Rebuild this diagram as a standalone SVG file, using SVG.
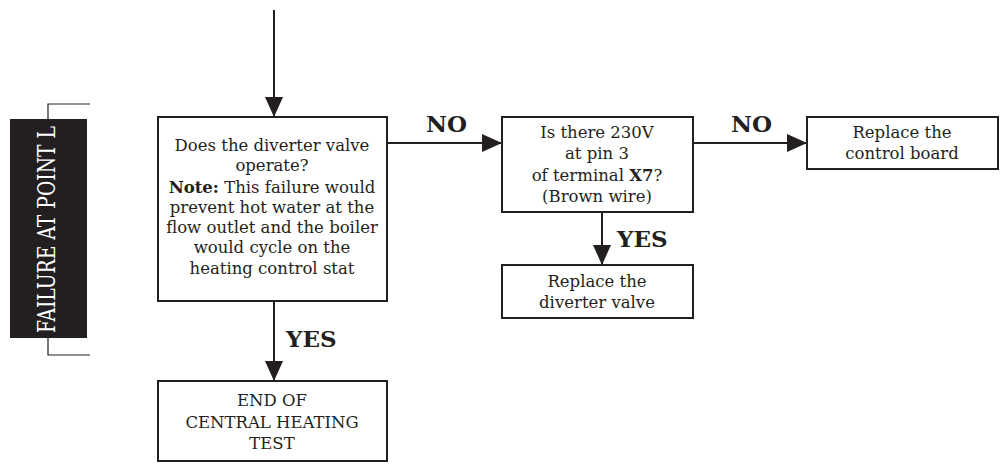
<svg xmlns="http://www.w3.org/2000/svg" width="1003" height="469" viewBox="0 0 1003 469">
<defs>
<style>
.box{fill:#fff;stroke:#231f20;stroke-width:2}
.t{font-family:"DejaVu Serif","Liberation Serif",serif;font-size:16.5px;fill:#231f20;text-anchor:middle}
.lbl{font-family:"DejaVu Serif","Liberation Serif",serif;font-size:23px;font-weight:bold;fill:#231f20}
.ln{stroke:#231f20;stroke-width:2;fill:none}
.br{stroke:#231f20;stroke-width:1.2;fill:none}
</style>
<marker id="ah" markerWidth="20" markerHeight="18" viewBox="0 0 20 18" refX="20" refY="9" markerUnits="userSpaceOnUse" orient="auto">
<path d="M0,0 L20,9 L0,18 Z" fill="#231f20"/>
</marker>
</defs>
<rect width="1003" height="469" fill="#fff"/>
<g id="side-label">
<path class="br" d="M90,104 H48 V120 M48,338 V355 H90"/>
<rect x="10" y="119" width="77" height="219" fill="#231f20"/>
<text x="0" y="0" transform="translate(55,229.5) rotate(-90)" font-family="DejaVu Serif, Liberation Serif, serif" font-size="24" fill="#fff" text-anchor="middle" textLength="207" lengthAdjust="spacingAndGlyphs">FAILURE AT POINT L</text>
</g>
<g id="connectors">
<line class="ln" x1="274" y1="10" x2="274" y2="117" marker-end="url(#ah)"/>
<line class="ln" x1="387" y1="143" x2="502" y2="143" marker-end="url(#ah)"/>
<line class="ln" x1="693" y1="143" x2="807" y2="143" marker-end="url(#ah)"/>
<line class="ln" x1="602" y1="212" x2="602" y2="265" marker-end="url(#ah)"/>
<line class="ln" x1="274" y1="301" x2="274" y2="381" marker-end="url(#ah)"/>
<text class="lbl" x="426" y="132">NO</text>
<text class="lbl" x="731" y="132">NO</text>
<text class="lbl" x="617" y="247">YES</text>
<text class="lbl" x="286" y="347">YES</text>
</g>
<g id="n-diverter-q">
<rect class="box" x="158" y="117" width="229" height="184"/>
<text class="t" x="272" y="151">Does the diverter valve</text>
<text class="t" x="272" y="171">operate?</text>
<text class="t" x="272" y="193"><tspan font-weight="bold">Note:</tspan> This failure would</text>
<text class="t" x="272" y="213">prevent hot water at the</text>
<text class="t" x="272" y="233">flow outlet and the boiler</text>
<text class="t" x="272" y="253">would cycle on the</text>
<text class="t" x="272" y="274">heating control stat</text>
</g>
<g id="n-230v">
<rect class="box" x="502" y="117" width="191" height="95"/>
<text class="t" x="597" y="138">Is there 230V</text>
<text class="t" x="597" y="159">at pin 3</text>
<text class="t" x="597" y="181">of terminal <tspan font-weight="bold">X7</tspan>?</text>
<text class="t" x="597" y="202">(Brown wire)</text>
</g>
<g id="n-control-board">
<rect class="box" x="807" y="117" width="191" height="52"/>
<text class="t" x="902" y="138">Replace the</text>
<text class="t" x="902" y="159">control board</text>
</g>
<g id="n-diverter-valve">
<rect class="box" x="502" y="265" width="191" height="53"/>
<text class="t" x="597" y="287">Replace the</text>
<text class="t" x="597" y="308">diverter valve</text>
</g>
<g id="n-end">
<rect class="box" x="158" y="381" width="229" height="80"/>
<text class="t" x="272" y="406">END OF</text>
<text class="t" x="272" y="428">CENTRAL HEATING</text>
<text class="t" x="272" y="449">TEST</text>
</g>
</svg>
